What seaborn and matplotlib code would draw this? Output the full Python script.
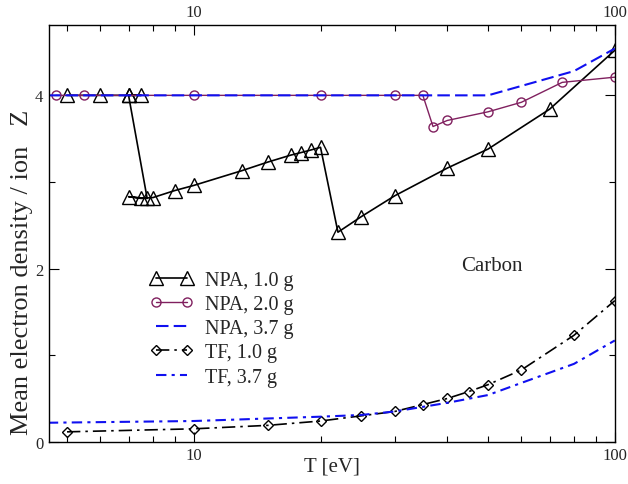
import numpy as np
import pandas as pd
import matplotlib
matplotlib.use("Agg")
import matplotlib.pyplot as plt
import matplotlib.ticker as mticker
import seaborn as sns

sns.set_theme(style="ticks")
plt.rcParams.update({
    'font.family': ['Liberation Serif', 'DejaVu Serif'],
    'mathtext.fontset': 'stix',
    'axes.linewidth': 1.0,
    'axes.edgecolor': 'black',
})

# NPA, 1.0 g (drawn in the order, incl. the jump near 7-8 eV)
npa1_T = [5, 6, 7, 7.5, 7, 7.75, 7, 7.5, 8, 9, 10, 13, 15, 17, 18, 19, 20,
          22, 25, 30, 40, 50, 70, 100]
npa1_Z = [4.0, 4.0, 4.0, 4.0, 4.0, 2.81, 2.83, 2.81, 2.82, 2.90, 2.96, 3.13,
          3.23, 3.31, 3.34, 3.37, 3.40, 2.42, 2.60, 2.84, 3.16, 3.38, 3.84, 4.52]

# NPA, 2.0 g
npa2_T = [4.7, 5.5, 10, 20, 30, 35, 37, 40, 50, 60, 75, 100]
npa2_Z = [4.0, 4.0, 4.0, 4.0, 4.0, 4.0, 3.64, 3.71, 3.81, 3.92, 4.15, 4.21]

# NPA, 3.7 g
npa37_T = [4.5, 50, 80, 100]
npa37_Z = [4.0, 4.0, 4.28, 4.54]

# TF, 1.0 g
tf1_T = [5, 10, 15, 20, 25, 30, 35, 40, 45, 50, 60, 80, 100]
tf1_Z = [0.115, 0.15, 0.19, 0.24, 0.30, 0.35, 0.43, 0.50, 0.58, 0.66, 0.83,
         1.23, 1.63]

# TF, 3.7 g
tf37_T = [4.5, 10, 20, 25, 30, 40, 50, 60, 80, 100]
tf37_Z = [0.22, 0.24, 0.29, 0.31, 0.35, 0.45, 0.54, 0.68, 0.90, 1.17]

maroon = '#80205f'
blue = '#1010f0'

fig, ax = plt.subplots(figsize=(6.28, 4.85), dpi=100)
fig.subplots_adjust(left=0.078, right=0.979, top=0.946, bottom=0.087)

common = dict(ax=ax, sort=False, estimator=None)

sns.lineplot(x=npa1_T, y=npa1_Z, color='black', lw=1.2, marker='^', ms=10,
             mfc='none', mec='black', mew=1.0, label='NPA, 1.0 g', **common)
sns.lineplot(x=npa2_T, y=npa2_Z, color=maroon, lw=1.0, marker='o', ms=6.5,
             mfc='none', mec=maroon, mew=1.0, label='NPA, 2.0 g', **common)
sns.lineplot(x=npa37_T, y=npa37_Z, color=blue, lw=1.5, ls=(0, (6, 2.5)),
             label='NPA, 3.7 g', **common)
sns.lineplot(x=tf1_T, y=tf1_Z, color='black', lw=1.2, ls=(0, (8, 3, 1.5, 3)),
             marker='D', ms=5.5, mfc='none', mec='black', mew=1.0,
             label='TF, 1.0 g', **common)
sns.lineplot(x=tf37_T, y=tf37_Z, color=blue, lw=1.5, ls=(0, (5, 2.5, 1.5, 2.5)),
             label='TF, 3.7 g', **common)

ax.set_xscale('log')
ax.set_xlim(4.53, 100)
ax.set_ylim(0, 4.81)
ax.xaxis.set_major_locator(mticker.FixedLocator([10, 100]))
ax.xaxis.set_major_formatter(mticker.FixedFormatter(['10', '100']))
ax.xaxis.set_minor_locator(mticker.LogLocator(base=10, subs=np.arange(2, 10)))
ax.xaxis.set_minor_formatter(mticker.NullFormatter())
ax.set_yticks([0, 2, 4])
ax.set_yticklabels(['0', '2', '4'])
ax.yaxis.set_minor_locator(mticker.FixedLocator([1, 3]))

ax.tick_params(which='both', direction='in', top=True, right=True,
               labeltop=True, labelright=False, labelsize=12, pad=4,
               color='black', width=0.8)
ax.tick_params(which='major', length=7)
ax.tick_params(which='minor', length=4)

ax.set_xlabel('T [eV]', fontsize=15)
ax.xaxis.set_label_coords(0.5, -0.035)
ax.set_ylabel('Mean electron density / ion   Z', fontsize=19)
ax.yaxis.set_label_coords(-0.028, 0.41)

ax.text(51, 2.03, 'Carbon', fontsize=15, ha='center', va='center')

ax.legend(loc='upper left', bbox_to_anchor=(0.178, 0.41), frameon=False,
          fontsize=14.5, numpoints=2, handlelength=2.15, handletextpad=0.6,
          labelspacing=0.25, borderpad=0, borderaxespad=0)

fig.savefig('out.png', dpi=100)
